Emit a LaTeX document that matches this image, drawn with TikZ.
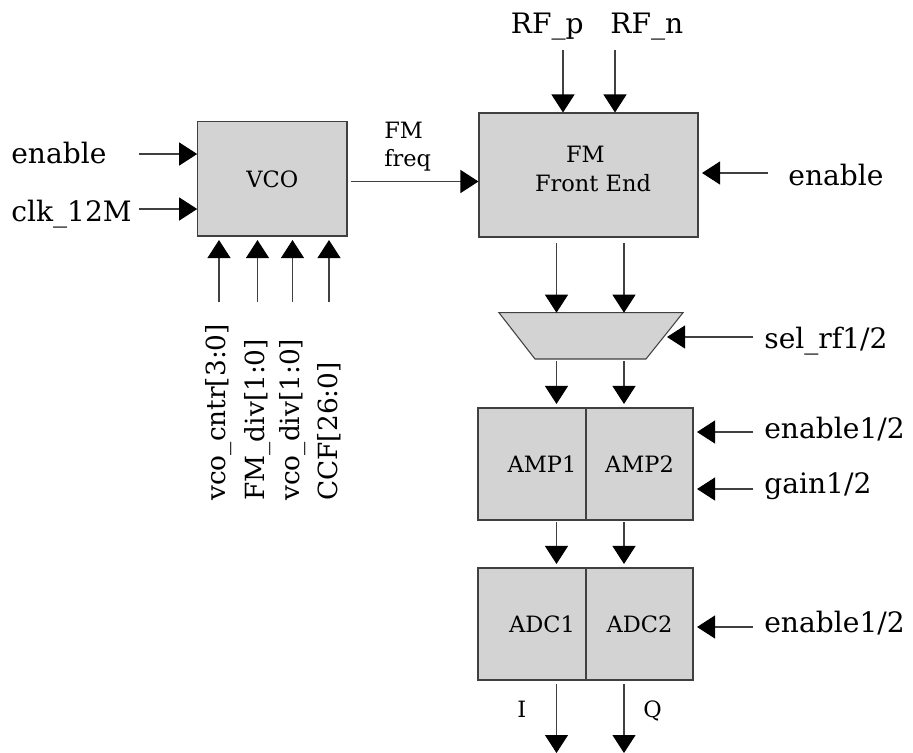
\documentclass[tikz,border=0pt]{standalone}
\usepackage{fontspec}
\setmainfont{DejaVu Serif}
\usepackage{xcolor}
\usetikzlibrary{shapes, arrows.meta, positioning}

\definecolor{boxgray}{RGB}{211,211,211}
\definecolor{edgegray}{RGB}{64,64,64}
\newcommand{\pinfont}{\fontsize{16}{19}\selectfont}
\newcommand{\busfont}{\fontsize{15}{18}\selectfont}
\newcommand{\blockfont}{\fontsize{12.8}{16}\selectfont}

\begin{document}
\begin{tikzpicture}[
        block/.style={draw=edgegray, fill=boxgray, line width=0.6pt, inner sep=0pt, font=\blockfont},
        sig/.style={draw=edgegray, line width=0.6pt, shorten <=1pt, -{Triangle[length=0.36cm, width=0.46cm, color=black]}},
        gap/.style={shorten >=2pt},
        pin/.style={inner sep=0pt, font=\pinfont, anchor=base west},
        vpin/.style={inner sep=0pt, font=\busfont, rotate=90, anchor=west},
        tag/.style={inner sep=0pt, font=\blockfont, anchor=base west}]
        \useasboundingbox (0, 0) rectangle (18.26, -15.06);

        % blocks
        \node[block, minimum width=2.986cm, minimum height=2.286cm] (vco) at (5.447, -3.577) {VCO};
        \node[block, minimum width=4.38cm, minimum height=2.48cm] (fe) at (11.77, -3.5) {};
        \node[tag, anchor=center, align=left] (fetxt) at (11.86, -3.38) {\hspace*{0.62cm}FM\\Front End};
        \node[block, minimum width=2.16cm, minimum height=2.24cm] (amp1) at (10.64, -9.28) {\hspace*{0.4cm}AMP1};
        \node[block, minimum width=2.14cm, minimum height=2.24cm] (amp2) at (12.79, -9.28) {AMP2};
        \node[block, minimum width=2.16cm, minimum height=2.24cm] (adc1) at (10.64, -12.48) {\hspace*{0.4cm}ADC1};
        \node[block, minimum width=2.14cm, minimum height=2.24cm] (adc2) at (12.79, -12.48) {ADC2};

        % rf select mux
        \coordinate (muxtl) at (9.98, -6.254);
        \coordinate (muxtr) at (13.66, -6.254);
        \coordinate (muxbr) at (12.92, -7.18);
        \coordinate (muxbl) at (10.7, -7.18);
        \coordinate (muxr) at (13.27, -6.74);
        \draw[block] (muxtl) -- (muxtr) -- (muxbr) -- (muxbl) -- cycle;

        % pin labels
        \node[pin] (enlbl) at (0.22, -3.26) {enable};
        \node[pin] (clklbl) at (0.22, -4.42) {clk\_12M};
        \node[tag] (fmlbl) at (7.68, -2.76) {FM};
        \node[tag] (freqlbl) at (7.68, -3.32) {freq};
        \node[pin] (rfplbl) at (10.21, -0.66) {RF\_p};
        \node[pin] (rfnlbl) at (12.2, -0.66) {RF\_n};
        \node[pin] (fenlbl) at (15.76, -3.7) {enable};
        \node[pin] (sellbl) at (15.28, -6.96) {sel\_rf1/2};
        \node[pin] (aenlbl) at (15.28, -8.76) {enable1/2};
        \node[pin] (gainlbl) at (15.28, -9.86) {gain1/2};
        \node[pin] (denlbl) at (15.28, -12.64) {enable1/2};
        \node[tag] (ilbl) at (10.34, -14.34) {I};
        \node[tag] (qlbl) at (12.86, -14.34) {Q};
        \node[vpin] (cntrlbl) at (4.38, -10.02) {vco\_cntr[3:0]};
        \node[vpin] (fmdivlbl) at (5.15, -10.02) {FM\_div[1:0]};
        \node[vpin] (vcodivlbl) at (5.85, -10.02) {vco\_div[1:0]};
        \node[vpin] (ccflbl) at (6.58, -10.02) {CCF[26:0]};

        % free ends
        \coordinate (en) at (2.74, -3.08);
        \coordinate (clk) at (2.74, -4.18);
        \coordinate (cntr) at (4.38, -6.08);
        \coordinate (fmdiv) at (5.15, -6.08);
        \coordinate (vcodiv) at (5.85, -6.08);
        \coordinate (ccf) at (6.58, -6.08);
        \coordinate (freq) at (6.98, -3.63);
        \coordinate (rfp) at (11.26, -0.96);
        \coordinate (rfn) at (12.3, -0.96);
        \coordinate (fen) at (15.4, -3.46);
        \coordinate (sel) at (15.1, -6.74);
        \coordinate (aen) at (15.1, -8.64);
        \coordinate (gain) at (15.1, -9.78);
        \coordinate (den) at (15.1, -12.54);
        \coordinate (colI) at (11.13, -15.06);
        \coordinate (colQ) at (12.48, -15.06);

        \draw[sig] (en) to (en -| vco.west);
        \draw[sig] (clk) to (clk -| vco.west);
        \draw[sig, gap] (cntr) to (cntr |- vco.south);
        \draw[sig, gap] (fmdiv) to (fmdiv |- vco.south);
        \draw[sig, gap] (vcodiv) to (vcodiv |- vco.south);
        \draw[sig, gap] (ccf) to (ccf |- vco.south);
        \draw[sig] (freq) to (freq -| fe.west);
        \draw[sig] (rfp) to (rfp |- fe.north);
        \draw[sig] (rfn) to (rfn |- fe.north);
        \draw[sig, gap] (fen) to (fen -| fe.east);
        \draw[sig] ([yshift=-2pt]fe.south -| colI) to (muxtl -| colI);
        \draw[sig] ([yshift=-2pt]fe.south -| colQ) to (muxtl -| colQ);
        \draw[sig, gap] (sel) to (muxr);
        \draw[sig, gap] (muxbl -| colI) to (amp1.north -| colI);
        \draw[sig, gap] (muxbl -| colQ) to (amp2.north -| colQ);
        \draw[sig, gap] (aen) to (aen -| amp2.east);
        \draw[sig, gap] (gain) to (gain -| amp2.east);
        \draw[sig, gap] (amp1.south -| colI) to (adc1.north -| colI);
        \draw[sig, gap] (amp2.south -| colQ) to (adc2.north -| colQ);
        \draw[sig, gap] (den) to (den -| adc2.east);
        \draw[sig] ([yshift=-1pt]adc1.south -| colI) to (colI);
        \draw[sig] ([yshift=-1pt]adc2.south -| colQ) to (colQ);
\end{tikzpicture}
\end{document}
